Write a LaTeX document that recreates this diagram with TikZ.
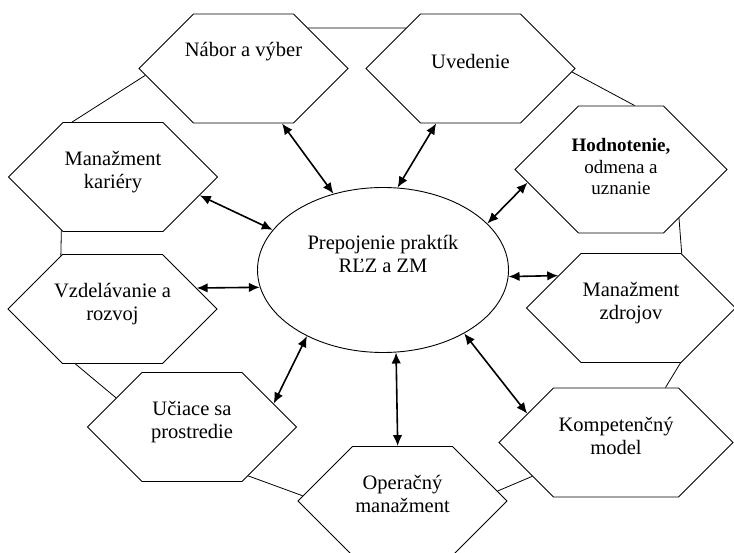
\documentclass[tikz,border=0pt]{standalone}
\usepackage{fontspec}
\setmainfont{Liberation Serif}
\usetikzlibrary{shapes.symbols,shapes.geometric,arrows.meta}

\tikzset{
    hexa/.style={draw, line width=0.9pt, signal, signal to=east and west,
        signal pointer angle=90, minimum width=209pt, minimum height=109pt,
        inner xsep=-30pt, inner ysep=0pt, align=center,
        text height=37pt, text depth=14pt},
    link/.style={line width=0.8pt},
    twoway/.style={<->, line width=1.6pt},
}

\begin{document}
\begin{tikzpicture}[x=1pt, y=-1pt, >={Latex[length=11pt,width=9.5pt]},
    font=\fontsize{20.5pt}{23pt}\selectfont]
    \useasboundingbox (0,0) rectangle (734,553);

    % Centre
    \node[draw, ellipse, line width=0.9pt, minimum width=251pt, minimum height=165pt,
        inner sep=0pt, align=center, text height=20pt, text depth=14pt] (prax) at (383,270)
        {Prepojenie praktík\\RĽZ a ZM};

    % Hexagons round it
    \node[hexa, text height=14pt, text depth=37pt] (nabor) at (243.5,68.5) {Nábor a výber};
    \node[hexa, text height=14pt] (uvedenie) at (470.5,68.5) {Uvedenie};
    \node[hexa] (kariera) at (113,177) {Manažment\\kariéry};
    \node[hexa, minimum width=212pt, minimum height=127pt, text height=65pt,
        font=\fontsize{19pt}{21.5pt}\selectfont] (hodnotenie) at (621,169.5)
        {\textbf{Hodnotenie,}\\odmena a\\uznanie};
    \node[hexa] (rozvoj) at (112.5,309) {Vzdelávanie a\\rozvoj};
    \node[hexa] (zdroje) at (631,308) {Manažment\\zdrojov};
    \node[hexa] (prostredie) at (192,427) {Učiace sa\\prostredie};
    \node[hexa, minimum width=234pt] (model) at (616,442.5) {Kompetenčný\\model};
    \node[hexa] (operacny) at (402.5,501) {Operačný\\manažment};

    % Ring of thin links
    \draw[link] (nabor.32) -- (uvedenie.148);
    \draw[link] (nabor.184) -- (kariera.127);
    \draw[link] (kariera.226) -- (rozvoj.134);
    \draw[link] (rozvoj.236) -- (prostredie.159);
    \draw[link] (prostredie.319) -- (operacny.177);
    \draw[link] (operacny.6) -- (model.202);
    \draw[link] (model.48) -- (zdroje.312);
    \draw[link] (zdroje.47) -- (hodnotenie.320);
    \draw[link] (hodnotenie.78) -- (uvedenie.358);

    % Arrows to the centre
    \draw[twoway] (nabor.305) -- (prax.123);
    \draw[twoway] (uvedenie.238) -- (prax.80);
    \draw[twoway] (kariera.348) -- (prax.160);
    \draw[twoway] (hodnotenie.188) -- (prax.24);
    \draw[twoway] (rozvoj.14) -- (prax.188);
    \draw[twoway] (zdroje.156) -- (prax.357);
    \draw[twoway] (prostredie.16) -- (prax.221);
    \draw[twoway] (operacny.95) -- (prax.279);
    \draw[twoway] (model.162) -- (prax.322);
\end{tikzpicture}
\end{document}
